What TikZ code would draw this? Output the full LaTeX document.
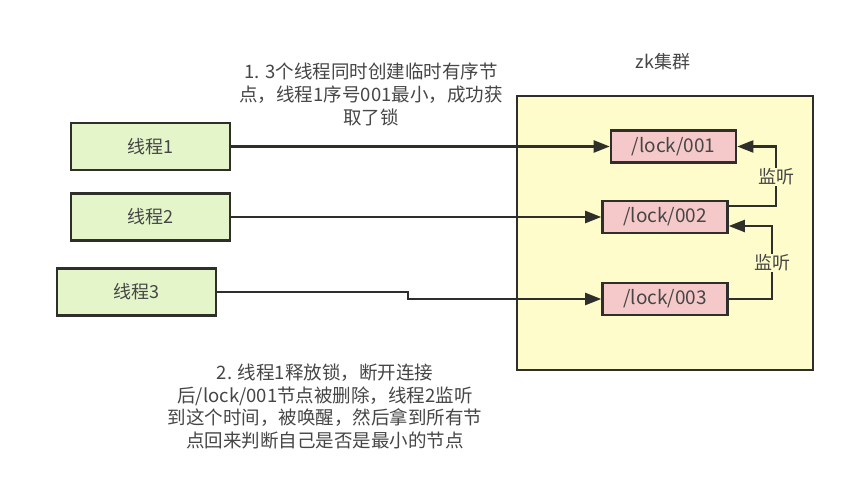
\documentclass[tikz,border=0pt]{standalone}
\usepackage{fontspec}
\setmainfont{Noto Sans CJK SC}
\usetikzlibrary{arrows.meta,calc}
\definecolor{edgecol}{HTML}{2E2E2A}
\definecolor{txtcol}{HTML}{464646}
\definecolor{threadfill}{HTML}{E4F6C9}
\definecolor{lockfill}{HTML}{F5C9C9}
\definecolor{zkfill}{HTML}{FDFCCA}
\tikzset{
  threadbox/.style={draw=edgecol,line width=2.6pt,fill=threadfill,minimum width=159pt,minimum height=47pt,inner sep=0pt,text=txtcol,font=\fontsize{18}{22}\selectfont},
  lockbox/.style={draw=edgecol,line width=2.6pt,fill=lockfill,minimum width=125pt,minimum height=32pt,inner sep=0pt,text=txtcol,font=\fontsize{19}{22}\selectfont},
  clusterbox/.style={draw=edgecol,line width=2.6pt,fill=zkfill},
  conn/.style={draw=edgecol,line width=2.2pt,-{Triangle[length=16pt,width=12pt]}},
  note/.style={text=txtcol,font=\fontsize{18.5}{22.8}\selectfont,align=center,inner sep=0pt},
  watchlabel/.style={text=txtcol,font=\fontsize{18}{22}\selectfont,fill=zkfill,inner sep=1pt}
}
\begin{document}
\begin{tikzpicture}[x=1pt,y=-1pt]
\useasboundingbox[fill=white] (0,0) rectangle (854,494);

% ZooKeeper cluster container
\draw[clusterbox] (517,96) rectangle (813,370);
\node[text=txtcol,font=\fontsize{18}{22}\selectfont] (zk) at (663,62) {zk集群};

% client threads
\node[threadbox] (t1) at (150.5,146.5) {线程1};
\node[threadbox] (t2) at (150.5,217) {线程2};
\node[threadbox] (t3) at (136.5,292) {线程3};

% ephemeral sequential nodes
\node[lockbox] (l1) at (673.5,146.5) {/lock/001};
\node[lockbox] (l2) at (665,217) {/lock/002};
\node[lockbox] (l3) at (665,299) {/lock/003};

% creation requests
\coordinate (s3) at (408,299);
\draw[conn] (t1.east) -- (l1.west);
\draw[conn] (t2.east) -- (l2.west);
\draw[conn] (t3.east) -| (s3) -- (l3.west);

% watches on the predecessor node
\coordinate (w1) at (776,206);
\coordinate (w2) at (772,299);
\draw[conn] ($(l2.east)+(0,-11)$) -- (w1) -- (w1 |- l1.east) -- (l1.east);
\node[watchlabel] (wl1) at (776,177) {监听};
\draw[conn] (l3.east) -- (w2) -- ($(w2 |- l2.east)+(0,9)$) -- ($(l2.east)+(0,9)$);
\node[watchlabel] (wl2) at (772,263) {监听};

% explanatory notes
\node[note] (n1) at (371,94.5) {1. 3个线程同时创建临时有序节\\点，线程1序号001最小，成功获\\取了锁};
\node[note] (n2) at (325,406.5) {2. 线程1释放锁，断开连接\\后/lock/001节点被删除，线程2监听\\到这个时间，被唤醒，然后拿到所有节\\点回来判断自己是否是最小的节点};
\end{tikzpicture}
\end{document}
